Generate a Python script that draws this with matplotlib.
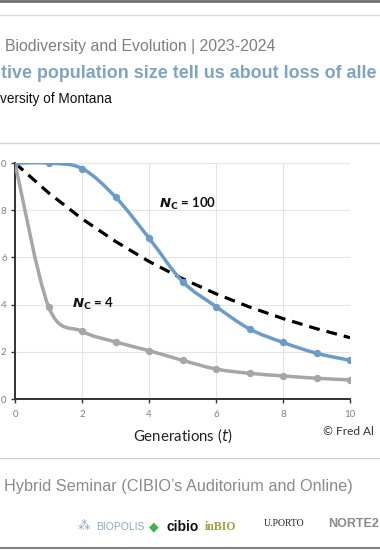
import matplotlib
matplotlib.use("Agg")
import matplotlib.pyplot as plt
from matplotlib.path import Path
from matplotlib.patches import PathPatch
from matplotlib.lines import Line2D

# data
t = [0, 1, 2, 3, 4, 5, 6, 7, 8, 9, 10]
nc100 = [1.0, 1.0, 0.977, 0.856, 0.682, 0.498, 0.392, 0.297, 0.240, 0.194, 0.164]
nc4 = [1.0, 0.392, 0.287, 0.242, 0.205, 0.164, 0.127, 0.109, 0.098, 0.088, 0.081]
expected = [1.0, 0.874, 0.764, 0.668, 0.583, 0.510, 0.446, 0.390, 0.341, 0.298, 0.260]
xticks = [0, 2, 4, 6, 8, 10]
yticks = [0.0, 0.2, 0.4, 0.6, 0.8, 1.0]

blue = '#6b9cc9'
grey = '#a6a6a6'
chart_font = ['Lato', 'DejaVu Sans']
slide_font = ['Liberation Sans', 'DejaVu Sans']


def smooth_path(xs, ys):
    # excel style smoothed line: bezier segments through the points
    verts = [(xs[0], ys[0])]
    codes = [Path.MOVETO]
    n = len(xs)
    for i in range(n - 1):
        x0, y0 = xs[max(i - 1, 0)], ys[max(i - 1, 0)]
        x1, y1 = xs[i], ys[i]
        x2, y2 = xs[i + 1], ys[i + 1]
        x3, y3 = xs[min(i + 2, n - 1)], ys[min(i + 2, n - 1)]
        verts += [(x1 + (x2 - x0) / 6, y1 + (y2 - y0) / 6),
                  (x2 - (x3 - x1) / 6, y2 - (y3 - y1) / 6),
                  (x2, y2)]
        codes += [Path.CURVE4] * 3
    return Path(verts, codes)


fig = plt.figure(figsize=(3.8, 5.5), dpi=100)

# slide frame lines
for yy, col, lw in [(0.999, '#707070', 2.0), (0.973, '#dadada', 1.0),
                    (0.740, '#c8d5df', 1.0), (0.167, '#c8d5df', 1.0),
                    (0.003, '#808080', 1.5)]:
    fig.add_artist(Line2D([0, 1], [yy, yy], transform=fig.transFigure, color=col, lw=lw))

# slide header (cropped at the edges in the original)
fig.text(0.013, 0.916, 'Biodiversity and Evolution | 2023-2024', fontsize=11.4,
         color='#7f7f7f', family=slide_font, va='center')
fig.text(0.003, 0.867, 'tive population size tell us about loss of alle', fontsize=12.9,
         color='#7ea3c3', family=slide_font, weight='bold', va='center')
fig.text(0.0, 0.820, 'versity of Montana', fontsize=9.8, color='#111111',
         family=slide_font, va='center')

ax = fig.add_axes([0.0395, 0.2745, 0.8816, 0.429])
ax.plot(t, expected, color='black', lw=2.3, ls=(0, (3.4, 2.2)), zorder=3)
for ys, col in [(nc4, grey), (nc100, blue)]:
    ax.add_patch(PathPatch(smooth_path(t, ys), facecolor='none', edgecolor=col,
                           lw=2.5, zorder=4, capstyle='round'))
    ax.plot(t, ys, ls='none', marker='o', ms=4.3, color=col, zorder=5)

ax.set_xlim(0, 10)
ax.set_ylim(0, 1.0)
ax.set_xticks(xticks)
ax.set_yticks(yticks)
# only the last digit of each y label is visible in the cropped slide
ax.set_yticklabels([('%.1f' % v)[-1] for v in yticks])
ax.grid(True, color='#e4e4e4', lw=0.8)
ax.set_axisbelow(True)
for s in ['top', 'right']:
    ax.spines[s].set_visible(False)
for s in ['left', 'bottom']:
    ax.spines[s].set_color('#333333')
    ax.spines[s].set_linewidth(1.4)
ax.tick_params(axis='both', direction='out', length=3, width=1.0, color='#333333',
               labelsize=7, labelcolor='#7f7f7f', pad=5)
ax.tick_params(axis='y', pad=3)
for lab in ax.get_xticklabels() + ax.get_yticklabels():
    lab.set_family(chart_font)
ax.set_xlabel('Generations ($\\it{t}$)', fontsize=10.8, family=chart_font,
              color='#222222', labelpad=5)

ax.text(4.3, 0.825, r'$\mathbfit{N}_{\mathbf{C}}$ = 100', fontsize=9.5, weight='bold',
        family=chart_font, color='#111111', va='center')
ax.text(1.7, 0.405, r'$\mathbfit{N}_{\mathbf{C}}$ = 4', fontsize=9.5, weight='bold',
        family=chart_font, color='#111111', va='center')

fig.text(0.850, 0.216, '\u00a9 Fred Al', fontsize=8.6, color='#333333',
         family=chart_font, va='center')

fig.text(0.011, 0.116, 'Hybrid Seminar (CIBIO\u2019s Auditorium and Online)', fontsize=11.7,
         color='#8a8a8a', family=slide_font, va='center')

# sponsor logos as text
fig.text(0.205, 0.042, '\u2042', fontsize=9, color='#8aa7c4', va='center')
fig.text(0.252, 0.042, 'BIOPOLIS', fontsize=7.5, color='#8aa7c4',
         family=slide_font, va='center')
fig.text(0.393, 0.042, '\u25c6', fontsize=9, color='#3bb54a', va='center')
fig.text(0.437, 0.042, 'cibio', fontsize=10, color='#111111', weight='bold',
         family=slide_font, va='center')
fig.text(0.540, 0.042, 'inBIO', fontsize=8.5, color='#9aa03a', weight='bold',
         family=['Liberation Serif', 'DejaVu Serif'], va='center')
fig.text(0.693, 0.049, 'U.PORTO', fontsize=7, color='#222222',
         family=['Liberation Serif', 'DejaVu Serif'], va='center')
fig.text(0.863, 0.047, 'NORTE2', fontsize=9, color='#8a8a8a', weight='bold',
         family=slide_font, va='center')

fig.savefig('out.png', dpi=100)
